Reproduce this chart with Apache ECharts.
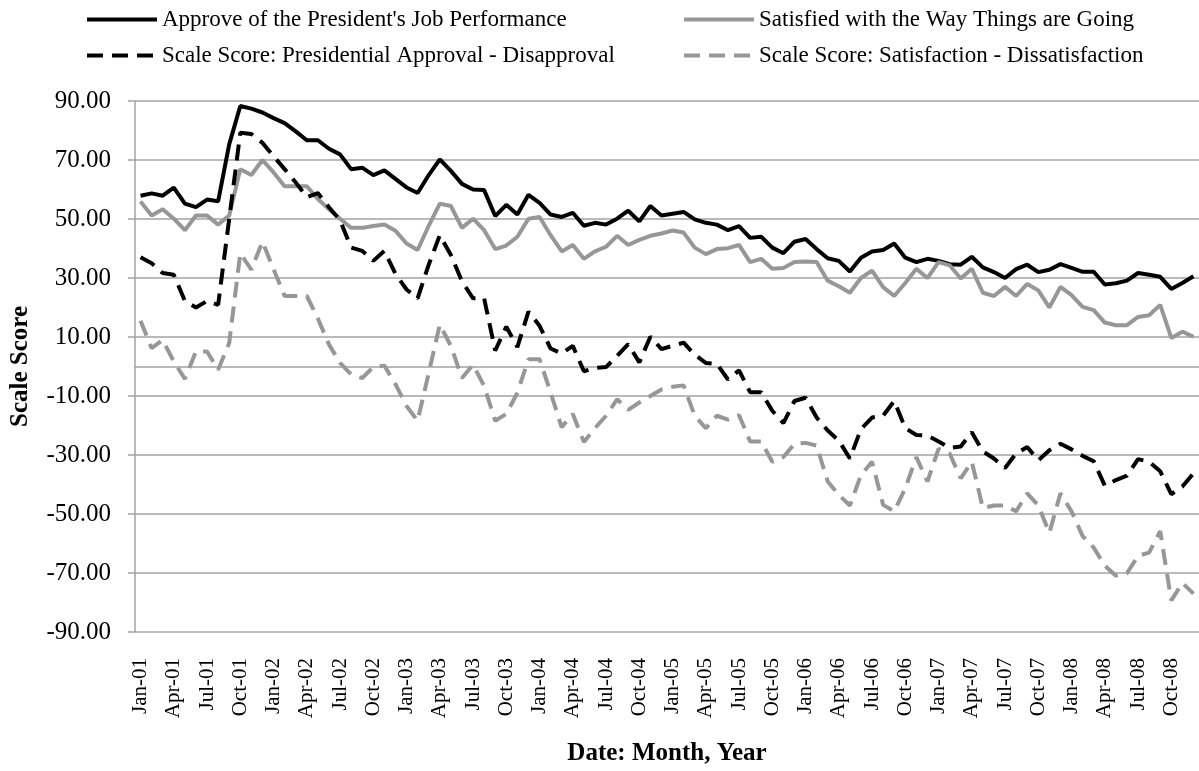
<!DOCTYPE html>
<html>
<head>
<meta charset="utf-8">
<script src="https://cdn.jsdelivr.net/npm/echarts@6/dist/echarts.min.js"></script>
<style>
  html, body { margin: 0; padding: 0; background: #fff; }
  #chart { width: 1199px; height: 771px; }
</style>
</head>
<body>
<div id="chart"></div>
<script>
// monthly categories Jan-01 .. Dec-08
const monthNames = ['Jan', 'Feb', 'Mar', 'Apr', 'May', 'Jun', 'Jul', 'Aug', 'Sep', 'Oct', 'Nov', 'Dec'];
const years = ['01', '02', '03', '04', '05', '06', '07', '08'];
const months = [];
years.forEach(y => monthNames.forEach(m => months.push(m + '-' + y)));

const approve = [
  57.9, 58.7, 57.9, 60.6, 55.2, 54.0, 56.6, 56.0, 75.3, 88.3, 87.4, 86.1,
  84.2, 82.5, 79.7, 76.7, 76.7, 73.8, 71.9, 66.9, 67.4, 64.9, 66.5, 63.6,
  60.7, 58.8, 64.9, 70.2, 66.3, 61.9, 60.0, 59.8, 51.0, 54.8, 51.5, 58.2,
  55.5, 51.5, 50.7, 52.1, 47.7, 48.7, 48.1, 50.1, 52.8, 49.2, 54.4, 51.2,
  51.8, 52.4, 49.9, 48.7, 48.1, 46.2, 47.6, 43.6, 44.0, 40.3, 38.4, 42.3,
  43.2, 39.8, 36.7, 35.8, 32.2, 36.9, 39.0, 39.5, 41.7, 36.9, 35.4, 36.5,
  35.8, 34.7, 34.5, 37.2, 33.6, 32.0, 30.0, 33.0, 34.5, 32.0, 32.8, 34.7,
  33.4, 32.1, 32.1, 27.8, 28.2, 29.1, 31.7, 31.1, 30.4, 26.3, 28.3, 30.6
];
const satisfied = [
  55.9, 51.2, 53.3, 50.1, 46.2, 51.2, 51.2, 48.1, 51.2, 66.9, 64.9, 70.0,
  65.8, 61.1, 61.1, 61.1, 56.8, 53.3, 50.1, 47.0, 47.0, 47.6, 48.1, 46.0,
  41.7, 39.5, 47.7, 55.2, 54.4, 47.0, 50.1, 46.2, 39.8, 41.0, 44.0, 50.1,
  50.7, 44.5, 39.0, 41.2, 36.5, 39.0, 40.6, 44.3, 41.2, 42.9, 44.3, 45.1,
  46.1, 45.4, 40.3, 38.1, 39.8, 40.1, 41.2, 35.4, 36.5, 33.1, 33.4, 35.4,
  35.6, 35.4, 29.1, 27.2, 25.0, 30.0, 32.5, 26.9, 23.9, 28.3, 33.1, 30.0,
  35.4, 34.3, 29.8, 33.1, 25.0, 23.9, 27.0, 23.9, 28.0, 25.8, 20.0, 27.0,
  24.2, 20.2, 19.1, 14.9, 14.0, 14.0, 16.8, 17.4, 20.9, 9.7, 11.8, 10.1
];
const approvalScale = [
  37.0, 35.0, 31.7, 31.1, 22.2, 20.0, 22.2, 20.9, 50.0, 79.2, 78.8, 75.8,
  71.3, 66.9, 62.4, 57.4, 58.8, 54.0, 49.6, 40.3, 39.2, 35.8, 39.2, 31.4,
  26.1, 23.1, 34.5, 44.5, 37.8, 28.9, 23.1, 23.1, 5.4, 13.5, 6.6, 18.6,
  13.8, 6.1, 4.4, 7.0, -1.6, -0.5, -0.2, 3.6, 7.6, 1.4, 10.1, 5.9,
  7.0, 8.1, 4.0, 1.2, 0.9, -4.4, -1.3, -8.7, -8.7, -15.0, -19.2, -11.7,
  -10.6, -17.3, -21.7, -25.1, -31.2, -21.2, -17.3, -16.7, -11.7, -20.9, -23.2, -23.4,
  -25.4, -27.6, -27.1, -22.3, -28.8, -31.2, -34.4, -29.5, -27.3, -31.8, -28.4, -26.2,
  -28.1, -30.3, -32.1, -40.4, -38.5, -37.0, -31.4, -32.3, -35.5, -43.3, -40.7, -36.2
];
const satisfactionScale = [
  15.5, 6.2, 9.0, 1.7, -4.2, 5.1, 5.1, -1.1, 8.0, 38.4, 32.8, 42.3,
  33.0, 23.9, 23.9, 23.9, 16.3, 7.5, 1.2, -2.7, -3.9, -0.2, 0.3, -6.0,
  -13.4, -18.4, -2.2, 14.2, 7.0, -3.9, 0.6, -6.6, -18.4, -16.1, -8.9, 2.5,
  2.5, -8.9, -20.6, -16.1, -25.6, -20.9, -16.7, -11.1, -14.7, -12.2, -10.0, -7.8,
  -6.9, -6.4, -16.7, -20.9, -16.7, -18.0, -16.5, -25.4, -25.4, -32.3, -30.7, -26.2,
  -25.9, -26.8, -39.0, -43.5, -47.1, -36.8, -32.3, -46.9, -49.1, -41.3, -30.7, -39.0,
  -27.9, -29.5, -37.9, -32.3, -48.0, -47.1, -47.1, -49.1, -43.0, -47.1, -56.4, -43.0,
  -49.1, -57.5, -61.4, -67.5, -70.9, -70.1, -64.2, -63.1, -55.8, -79.3, -73.4, -77.0
];

const names = [
  "Approve of the President's Job Performance",
  'Satisfied with the Way Things are Going',
  'Scale Score: Presidential Approval - Disapproval',
  'Scale Score: Satisfaction - Dissatisfaction'
];

const font = 'Liberation Serif, Times New Roman, serif';
const gridGray = '#a3a3a3';
const lineGray = '#979797';
const dash = [16, 9];

const chart = echarts.init(document.getElementById('chart'));

const legendStyle = {
  orient: 'vertical',
  top: 3,
  itemWidth: 70,
  itemHeight: 14,
  itemGap: 13,
  itemStyle: { opacity: 0 },
  lineStyle: { width: 4 },
  textStyle: { fontFamily: font, fontSize: 23, color: '#000' }
};

chart.setOption({
  animation: false,
  legend: [
    Object.assign({ left: 80, data: [names[0], names[2]] }, legendStyle),
    Object.assign({ left: 677, data: [names[1], names[3]] }, legendStyle)
  ],
  grid: { left: 132, top: 101, width: 1072, height: 537 },
  xAxis: {
    type: 'category',
    data: months,
    boundaryGap: true,
    name: 'Date: Month, Year',
    nameLocation: 'middle',
    nameGap: 109,
    nameTextStyle: { fontFamily: font, fontSize: 25, fontWeight: 'bold', color: '#000' },
    axisLine: { lineStyle: { color: gridGray, width: 1.5 } },
    axisTick: { interval: 2, length: 6, lineStyle: { color: gridGray, width: 1.5 } },
    axisLabel: {
      interval: 2, rotate: 90, margin: 26,
      fontFamily: font, fontSize: 21, color: '#000'
    },
    splitLine: { show: false }
  },
  yAxis: {
    type: 'value',
    min: -90,
    max: 90,
    interval: 20,
    name: 'Scale Score',
    nameLocation: 'middle',
    nameGap: 102,
    nameTextStyle: { fontFamily: font, fontSize: 25, fontWeight: 'bold', color: '#000' },
    axisLine: { show: true, lineStyle: { color: gridGray, width: 1.5 } },
    axisTick: { show: true, length: 7, lineStyle: { color: gridGray, width: 1.5 } },
    axisLabel: {
      margin: 24,
      fontFamily: font, fontSize: 25, color: '#000',
      formatter: v => v.toFixed(2)
    },
    splitLine: { lineStyle: { color: gridGray, width: 1.5 } }
  },
  series: [
    {
      name: names[0], type: 'line', data: approve, symbol: 'none',
      lineStyle: { color: '#000', width: 4 }, itemStyle: { color: '#000' }
    },
    {
      name: names[1], type: 'line', data: satisfied, symbol: 'none',
      lineStyle: { color: lineGray, width: 4 }, itemStyle: { color: lineGray }
    },
    {
      name: names[2], type: 'line', data: approvalScale, symbol: 'none',
      lineStyle: { color: '#000', width: 4, type: dash }, itemStyle: { color: '#000' }
    },
    {
      name: names[3], type: 'line', data: satisfactionScale, symbol: 'none',
      lineStyle: { color: lineGray, width: 4, type: dash }, itemStyle: { color: lineGray }
    }
  ]
});
</script>
</body>
</html>
